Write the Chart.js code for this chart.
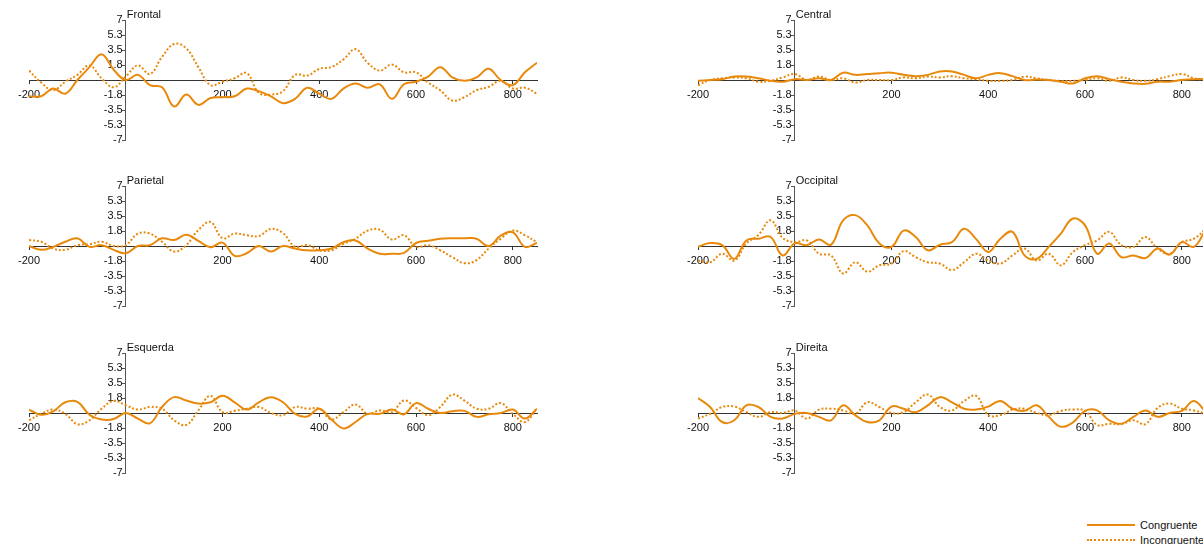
<!DOCTYPE html>
<html>
<head>
<meta charset="utf-8">
<title>ERP por região</title>
<script src="https://cdn.jsdelivr.net/npm/chart.js@4.4.1/dist/chart.umd.min.js"></script>
<style>
  html, body { margin: 0; padding: 0; background: #fff; width: 1203px; height: 544px; overflow: hidden; position: relative; }
  canvas.panel { position: absolute; }
  #legend { position: absolute; left: 1087px; top: 517px; font: 11px "Liberation Sans", Arial, sans-serif; color: #111; }
  #legend .item { height: 15px; display: flex; align-items: center; white-space: nowrap; }
  #legend .sw { display: inline-block; width: 48px; height: 0; border-top: 2px solid #E8890C; margin-right: 5px; }
  #legend .sw.dot { border-top-style: dotted; }
</style>
</head>
<body>
<canvas class="panel" id="c0"></canvas>
<canvas class="panel" id="c1"></canvas>
<canvas class="panel" id="c2"></canvas>
<canvas class="panel" id="c3"></canvas>
<canvas class="panel" id="c4"></canvas>
<canvas class="panel" id="c5"></canvas>
<div id="legend">
  <div class="item"><span class="sw"></span>Congruente</div>
  <div class="item"><span class="sw dot"></span>Incongruente</div>
</div>
<script>
// Time points (ms) of the averaged waveforms
const times = [-200, -175, -150, -125, -100, -75, -50, -25, 0, 25, 50, 75, 100, 125, 150, 175,
  200, 225, 250, 275, 300, 325, 350, 375, 400, 425, 450, 475, 500, 525, 550, 575, 600, 625,
  650, 675, 700, 725, 750, 775, 800, 825, 850];

// Axis ticks and their printed labels
const xTicks = [-200, 0, 200, 400, 600, 800];
const xTickLabels = ['-200', '', '200', '400', '600', '800'];
const yTicks = [7, 5.25, 3.5, 1.75, 0, -1.75, -3.5, -5.25, -7];
const yTickLabels = ['7', '5.3', '3.5', '1.8', '', '-1.8', '-3.5', '-5.3', '-7'];

const seriesNames = ['Congruente', 'Incongruente'];
const regionNames = ['Frontal', 'Central', 'Parietal', 'Occipital', 'Esquerda', 'Direita'];

// Amplitudes (µV) per region and condition
const frontalCong = [-1.9, -1.9, -1.0, -1.6, 0, 1.5, 3.0, 1.2, 0, 0.6, -0.6, -0.85, -3.1, -1.7, -2.9, -2.1,
  -2.0, -1.9, -1.0, -1.3, -1.9, -2.7, -2.2, -0.9, -1.6, -2.2, -1.0, -0.4, -0.9, -0.5, -2.2, -0.5, -0.2, 0.4,
  1.5, 0.3, -0.1, 0.3, 1.3, 0, -0.6, 0.9, 2.0];
const frontalIncong = [1.1, -0.3, -1.2, -0.2, 0.6, 1.7, 0.2, -0.85, 0.4, 1.7, 0.7, 2.7, 4.2, 3.7, 1.5, -0.6,
  -0.2, 0.2, 0.8, -1.5, -1.7, -1.3, 0.6, 0.5, 1.3, 1.5, 2.4, 3.6, 2.0, 1.1, 1.8, 0.9, 0.9, -0.3,
  -1.2, -2.4, -2.0, -1.2, -0.8, -0.1, -1.0, -0.9, -1.6];

const centralCong = [-0.1, 0, 0.1, 0.4, 0.4, 0.2, -0.1, -0.2, 0.1, 0, 0.2, 0, 0.85, 0.6, 0.7, 0.8,
  0.85, 0.6, 0.45, 0.6, 1.0, 1.0, 0.6, 0.2, 0.6, 0.8, 0.45, 0, 0.05, 0, -0.2, -0.4, 0.2, 0.45,
  0.1, -0.2, -0.4, -0.45, -0.2, -0.2, 0, 0.1, 0.1];
const centralIncong = [-0.6, 0, 0.2, 0.3, 0.2, -0.2, -0.1, 0.3, 0.7, 0, 0.4, 0, 0.2, -0.3, 0, 0,
  0, 0.3, 0.2, 0.4, 0.3, 0.45, 0.2, 0.1, -0.1, -0.1, 0, 0.4, 0.2, 0, -0.1, -0.1, 0, 0.2,
  -0.1, 0.3, 0, -0.1, 0.1, 0.45, 0.7, 0.2, 0];

const parietalCong = [0, -0.45, -0.1, 0.5, 0.9, -0.1, 0.1, -0.45, -0.85, 0, 0.1, 0.9, 0.7, 1.3, 0.6, -0.15,
  0.4, -1.15, -0.85, 0, -0.65, 0, -0.3, -0.5, -0.5, -0.3, 0.45, 0.65, -0.3, -0.9, -0.9, -0.8, 0.35, 0.6,
  0.85, 0.9, 0.9, 0.85, 0, 1.2, 1.6, -0.1, 0.35];
const parietalIncong = [0.7, 0.5, -0.3, -0.45, 0.1, 0.2, 0.5, 0, 0.1, 1.45, 1.45, 0.5, -0.65, 0.1, 1.85, 2.8,
  0.9, 1.45, 1.25, 1.15, 2.0, 1.5, -0.1, 0.1, -0.5, -0.5, 0.25, 0.85, 1.8, 1.9, 0.75, 1.25, -0.1, 0.1,
  -0.5, -1.3, -2.0, -1.65, -0.3, 0.85, 1.8, 1.25, 0.45];

const occipitalCong = [-0.1, 0.35, 0.1, -1.5, 0.65, 0.85, 1.05, -1.1, 0.3, 0.1, 0.75, 0.15, 3.0, 3.6, 2.4, 0.3,
  -0.1, 1.8, 1.05, -0.5, 0.15, 0.45, 2.0, 0.8, -0.7, 0.85, 1.65, -1.1, -1.5, -0.1, 1.45, 3.2, 2.4, -0.9,
  0.3, -1.3, -1.1, -1.4, -0.3, -1.0, 0.45, -0.1, 2.0];
const occipitalIncong = [-1.7, -1.9, -0.9, -1.7, 0.3, 1.3, 3.0, 0.95, 0.45, 0.65, -0.9, -1.1, -3.2, -1.9, -3.0, -2.25,
  -2.05, -0.6, -1.3, -1.9, -2.05, -2.8, -1.9, -0.9, -1.7, -2.05, -1.1, -0.3, -1.7, -0.9, -2.25, -0.7, 0.1, 0.65,
  1.65, 0.1, -0.1, 1.05, -0.3, -0.9, 0.45, 0.85, 2.0];

const esquerdaCong = [0.4, -0.2, 0.2, 1.25, 1.3, -0.2, -0.75, -0.7, 0, -0.65, -1.2, 0.7, 1.85, 1.45, 1.1, 1.25,
  2.0, 1.25, 0.4, 1.25, 1.85, 1.25, -0.1, -0.4, 0.5, -0.75, -1.8, -1.05, -0.1, -0.1, 0.4, -0.15, 1.15, 0.5,
  0, 0.2, 0.25, -0.45, -0.15, 0, 0.4, -0.65, 0.5];
const esquerdaIncong = [-0.85, -0.1, 0.4, -0.1, -1.3, -0.85, 0.5, 1.4, 0.9, 0.4, 0.7, 0.5, -0.85, -1.4, 0.3, 2.0,
  0.1, 0.25, 0.5, 0.7, 0, -0.25, 0.7, 0.5, 0.5, -0.75, 0.1, 1.0, -0.1, 0.3, 0.1, 1.45, 0.6, -0.25,
  0.7, 2.15, 1.45, 0.5, 0.5, 1.15, -0.1, -1.05, 0.6];

const direitaCong = [1.75, 0.7, -1.05, -0.85, 0.9, 0.7, -0.45, -0.65, -0.1, 0, -0.45, -0.85, 0.9, -0.25, -1.05, -0.85,
  0.75, 0.5, 0.1, 0.9, 1.85, 1.25, 0.5, 0.4, 0.75, 1.4, 0.5, 0.25, 0.9, -0.45, -1.6, -1.1, 0.25, 0.3,
  -0.85, -1.25, -0.45, 0.3, -0.45, 0, 0.25, 1.4, 0.1];
const direitaIncong = [-0.65, -0.1, 0.7, 0.75, 0.1, -0.45, 0.1, 0, 0.3, -0.65, 0.4, 0.5, 0.3, -0.1, 1.25, 0.7,
  0, 0.1, 1.25, 2.15, 0.7, 0.3, 1.4, 2.0, -0.25, -0.25, 0.4, 0.5, 0, -0.25, 0.25, 0.4, 0.25, -1.4,
  -1.25, -1.3, -0.85, -1.3, 0.6, 1.1, 0.5, 0.3, -0.1];

const regionSeries = [
  [frontalCong, frontalIncong],
  [centralCong, centralIncong],
  [parietalCong, parietalIncong],
  [occipitalCong, occipitalIncong],
  [esquerdaCong, esquerdaIncong],
  [direitaCong, direitaIncong]
];

const LINE_COLOR = '#E8890C';
const FONT = { family: '"Liberation Sans", Arial, Helvetica, sans-serif', size: 11 };

// Panel grid: 2 columns x 3 rows
const CANVAS_W = 560, CANVAS_H = 160;
const colLeft = [0, 669];
const rowTop = [0, 166, 333];

// Writes the region name just right of the top of the y axis
const regionTitle = {
  id: 'regionTitle',
  afterDraw(chart, args, opts) {
    const ctx = chart.ctx;
    const x0 = chart.scales.x.getPixelForValue(0);
    ctx.save();
    ctx.font = `${FONT.size}px ${FONT.family}`;
    ctx.fillStyle = '#111';
    ctx.textAlign = 'left';
    ctx.textBaseline = 'alphabetic';
    ctx.fillText(opts.text, x0 + 1, chart.chartArea.top - 2);
    ctx.restore();
  }
};

Chart.register(regionTitle);

regionNames.forEach((name, i) => {
  const canvas = document.getElementById('c' + i);
  canvas.width = CANVAS_W;
  canvas.height = CANVAS_H;
  canvas.style.left = colLeft[i % 2] + 'px';
  canvas.style.top = rowTop[Math.floor(i / 2)] + 'px';
  canvas.style.width = CANVAS_W + 'px';
  canvas.style.height = CANVAS_H + 'px';

  const [cong, incong] = regionSeries[i];
  new Chart(canvas, {
    type: 'line',
    data: {
      datasets: [
        {
          label: seriesNames[0],
          data: times.map((t, k) => ({ x: t, y: cong[k] })),
          borderColor: LINE_COLOR,
          borderWidth: 2,
          pointRadius: 0,
          tension: 0.4,
          fill: false
        },
        {
          label: seriesNames[1],
          data: times.map((t, k) => ({ x: t, y: incong[k] })),
          borderColor: LINE_COLOR,
          borderWidth: 2,
          borderDash: [2, 2],
          pointRadius: 0,
          tension: 0.4,
          fill: false
        }
      ]
    },
    options: {
      responsive: false,
      animation: false,
      devicePixelRatio: 1,
      layout: { padding: { left: 29, right: 23, top: 20, bottom: 20 } },
      plugins: {
        legend: { display: false },
        tooltip: { enabled: false },
        regionTitle: { text: name }
      },
      scales: {
        x: {
          type: 'linear',
          min: -200,
          max: 850,
          position: { y: 0 },
          afterBuildTicks: s => { s.ticks = xTicks.map(v => ({ value: v })); },
          ticks: {
            autoSkip: false,
            maxRotation: 0,
            padding: 5,
            color: '#111',
            font: FONT,
            callback: v => xTickLabels[xTicks.indexOf(v)] ?? ''
          },
          grid: { display: true, drawOnChartArea: false, drawTicks: true, tickLength: 3, color: '#333' },
          border: { display: true, color: '#333', width: 1 }
        },
        y: {
          type: 'linear',
          min: -7,
          max: 7,
          position: { x: 0 },
          afterBuildTicks: s => { s.ticks = yTicks.map(v => ({ value: v })); },
          ticks: {
            autoSkip: false,
            padding: 1,
            color: '#111',
            font: FONT,
            // trailing space keeps the right-aligned label clear of the axis line
            callback: v => {
              const label = yTickLabels[yTicks.indexOf(v)] ?? '';
              return label ? label + ' ' : '';
            }
          },
          grid: { display: true, drawOnChartArea: false, drawTicks: true, tickLength: 3, color: '#555' },
          border: { display: true, color: '#555', width: 1 }
        }
      }
    }
  });
});
</script>
</body>
</html>
